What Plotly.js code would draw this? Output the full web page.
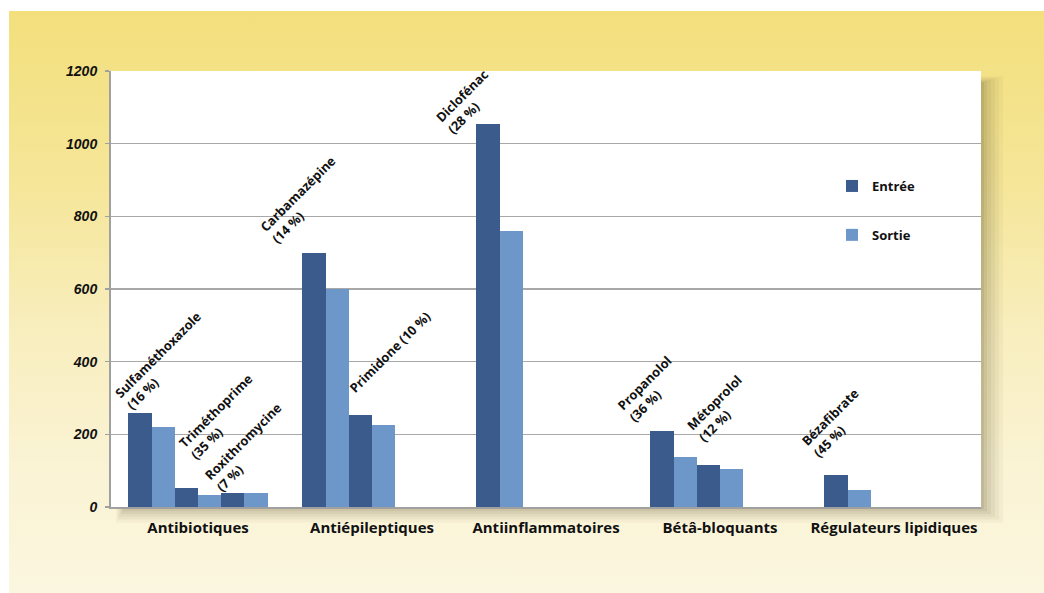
<!DOCTYPE html>
<html>
<head>
<meta charset="utf-8">
<script src="https://cdn.plot.ly/plotly-3.0.1.min.js"></script>
<style>
  html, body { margin: 0; padding: 0; background: #ffffff; }
  #bg { position: absolute; left: 9px; top: 11px; width: 1035px; height: 582px;
        background: linear-gradient(to bottom, #f3df7c 0%, #f5e699 30%, #f8eebe 55%, #faf3d4 78%, #fbf6df 100%); }
  #chart { position: absolute; left: 0; top: 0; width: 1044px; height: 593px; }
</style>
</head>
<body>
<div id="bg"></div>
<div id="chart"></div>
<script>
// ---- data ----
var categories = ['Antibiotiques', 'Antiépileptiques', 'Antiinflammatoires', 'Bétâ-bloquants', 'Régulateurs lipidiques'];
var drugLabels = ['Sulfaméthoxazole<br>(16 %)', 'Triméthoprime<br>(35 %)', 'Roxithromycine<br>(7 %)',
                  'Carbamazépine<br>(14 %)', 'Primidone (10 %)', 'Diclofénac<br>(28 %)',
                  'Propanolol<br>(36 %)', 'Métoprolol<br>(12 %)', 'Bézafibrate<br>(45 %)'];
var drugCategory = [0, 0, 0, 1, 1, 2, 3, 3, 4];
var entree = [260, 51, 38, 698, 253, 1055, 209, 116, 88];
var sortie = [220, 34, 38, 600, 226, 761, 137, 104, 47];
var yTicks = [0, 200, 400, 600, 800, 1000, 1200];

// ---- layout helpers (style) ----
var SLOTS = 6, GAP = 0.1, W = (1 - 2 * GAP) / SLOTS;
// pixel nudges for the rotated labels (style only)
var labelNudge = [[-19, -2], [-1.5, 23.5], [-22.5, -4], [-47.5, 4.5], [-5, 17], [-46, -15], [-38.5, 4.5], [-15.5, 17.5], [-28, 12.5]];

var counts = {};
var xE = [], xS = [];
for (var i = 0; i < drugCategory.length; i++) {
  var g = drugCategory[i];
  var k = counts[g] || 0; counts[g] = k + 1;
  xE.push(g + GAP + (2 * k + 0.5) * W);
  xS.push(g + GAP + (2 * k + 1.5) * W);
}

var traces = [
  { type: 'bar', name: 'Entrée', x: xE, y: entree, width: W, marker: { color: '#3b5b8d' },
    legendgroup: 'e', hoverinfo: 'y' },
  { type: 'bar', name: 'Sortie', x: xS, y: sortie, width: W, marker: { color: '#6e97c9' },
    legendgroup: 's', hoverinfo: 'y' }
];

var annotations = drugLabels.map(function (t, i) {
  return {
    x: xE[i] - W / 2, y: entree[i], xref: 'x', yref: 'y', text: t, showarrow: false,
    textangle: -45, xanchor: 'left', yanchor: 'bottom', align: 'left', borderpad: 0,
    xshift: labelNudge[i][0], yshift: labelNudge[i][1],
    font: { family: 'Open Sans', size: 12.8, weight: 'bold', color: '#111111' }
  };
});

// plot area in px: x 111..981, y 71..507
var L = 111, R = 981, T = 71, B = 507;
function px(x) { return (x - L) / (R - L); }
function py(y) { return (B - y) / (B - T); }
var shapes = [];
var shadowSteps = [[22, 0.05], [18, 0.06], [14, 0.07], [10, 0.08], [6, 0.1], [3, 0.12]];
shadowSteps.forEach(function (s) {
  var o = s[0];
  shapes.push({ type: 'rect', xref: 'paper', yref: 'paper', layer: 'below',
    x0: px(L + 14 - o * 0.4), x1: px(R + o), y0: py(B + o * 0.7), y1: py(T + 12 - o * 0.3),
    fillcolor: 'rgba(110,100,60,' + s[1] + ')', line: { width: 0 } });
});
shapes.push({ type: 'rect', xref: 'paper', yref: 'paper', layer: 'below',
  x0: 0, x1: 1, y0: 0, y1: 1, fillcolor: '#ffffff', line: { width: 0 } });

var layout = {
  width: 1044, height: 593,
  margin: { l: L, r: 1044 - R, t: T, b: 593 - B, pad: 0 },
  paper_bgcolor: 'rgba(0,0,0,0)', plot_bgcolor: 'rgba(0,0,0,0)',
  showlegend: true,
  legend: { x: px(832), y: py(171), xanchor: 'left', yanchor: 'top', traceorder: 'grouped',
    tracegroupgap: 29, bgcolor: 'rgba(0,0,0,0)',
    font: { family: 'Open Sans', size: 13, weight: 'bold', color: '#111111' } },
  xaxis: {
    range: [0, categories.length], tickvals: categories.map(function (c, i) { return i + 0.5; }),
    ticktext: categories, showgrid: false, zeroline: false, ticks: '',
    showline: true, linecolor: '#a0a0a0', linewidth: 2, ticklabelstandoff: 6,
    tickfont: { family: 'Open Sans', size: 15, weight: 'bold', color: '#111111' }, fixedrange: true
  },
  yaxis: {
    range: [0, 1200], tickvals: yTicks, ticktext: yTicks.map(String),
    showgrid: true, gridcolor: '#a8a8a8', gridwidth: 1.5, zeroline: false,
    ticks: 'outside', ticklen: 4, tickcolor: '#a0a0a0', tickwidth: 1.5,
    showline: true, linecolor: '#a0a0a0', linewidth: 2, ticklabelstandoff: 5,
    tickfont: { family: 'Liberation Sans', size: 14, weight: 'bold', style: 'italic', color: '#111111' },
    fixedrange: true
  },
  bargap: 0,
  annotations: annotations,
  shapes: shapes
};

Plotly.newPlot('chart', traces, layout, { displayModeBar: false, staticPlot: true });
</script>
</body>
</html>
